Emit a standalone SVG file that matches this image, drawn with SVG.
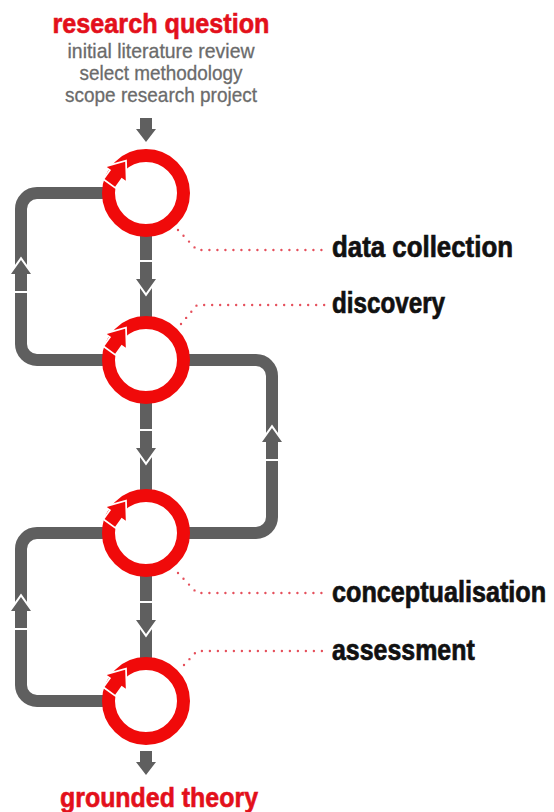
<svg xmlns="http://www.w3.org/2000/svg" width="554" height="812" viewBox="0 0 554 812">
  <style>
    .flow { fill: none; stroke: #5f5f5f; stroke-width: 12; }
    .garrow { fill: #5f5f5f; stroke: #ffffff; stroke-width: 4; paint-order: stroke; stroke-linejoin: miter; }
    .ring { fill: #ffffff; stroke: #f00a0a; stroke-width: 13; }
    .rarrow { fill: #f00a0a; stroke: #ffffff; stroke-width: 3.5; paint-order: stroke; stroke-linejoin: miter; }
    .lead { fill: none; stroke: #e5505c; stroke-width: 2.4; stroke-linecap: round; stroke-dasharray: 0 8; }
    .head { font-family: "Liberation Sans", Arial, sans-serif; font-weight: bold; fill: #e3101b; stroke: #e3101b; stroke-width: 0.6; text-anchor: middle; }
    .sub { font-family: "Liberation Sans", Arial, sans-serif; font-size: 21px; fill: #6b6b6b; stroke: #6b6b6b; stroke-width: 0.3; text-anchor: middle; }
    .label { font-family: "Liberation Sans", Arial, sans-serif; font-weight: bold; font-size: 29px; fill: #111111; stroke: #111111; stroke-width: 0.7; }
  </style>
  <defs>
    <!-- gray arrow, tip at origin, pointing down -->
    <polygon id="arrow" class="garrow" points="-6,-31 6,-31 6,-14 10,-14 0,0 -10,-14 -6,-14"/>
    <polygon id="arrowShort" class="garrow" points="-6,-24 6,-24 6,-13 10,-13 0,0 -10,-13 -6,-13"/>
    <!-- red circular-arrow head, drawn along the ring chord (ring radius 37.5) -->
    <polygon id="ringHead" class="rarrow" points="28.7,-13 41.7,-13 41.7,-2 47,-2 35.2,13 23.5,-2 28.7,-2"/>
  </defs>

  <!-- heading -->
  <g id="start">
    <text class="head" x="161" y="33" font-size="28" textLength="217" lengthAdjust="spacingAndGlyphs">research question</text>
    <text class="sub" x="161" y="58" textLength="187" lengthAdjust="spacingAndGlyphs">initial literature review</text>
    <text class="sub" x="161" y="80" textLength="163" lengthAdjust="spacingAndGlyphs">select methodology</text>
    <text class="sub" x="161" y="102" textLength="192" lengthAdjust="spacingAndGlyphs">scope research project</text>
  </g>

  <!-- flow lines, loops and arrows -->
  <g id="connectors">
    <path class="flow" d="M146,193 V701"/>
    <path class="flow" d="M146,193 H37 A16,16 0 0 0 21,209 V344 A16,16 0 0 0 37,360 H146"/>
    <path class="flow" d="M146,360 H256 A16,16 0 0 1 272,376 V517 A16,16 0 0 1 256,533 H146"/>
    <path class="flow" d="M146,533 H37 A16,16 0 0 0 21,549 V685 A16,16 0 0 0 37,701 H146"/>

    <use href="#arrowShort" transform="translate(146,142)"/>
    <use href="#arrow" transform="translate(146,293)"/>
    <use href="#arrow" transform="translate(146,462)"/>
    <use href="#arrow" transform="translate(146,634)"/>
    <use href="#arrowShort" transform="translate(146,775)"/>

    <use href="#arrow" transform="translate(21,260) rotate(180)"/>
    <use href="#arrow" transform="translate(272,428) rotate(180)"/>
    <use href="#arrow" transform="translate(21,597) rotate(180)"/>

    <!-- dotted leaders -->
    <path class="lead" d="M178,230 L197,250 H326"/>
    <path class="lead" d="M181,324 L197,305 H326"/>
    <path class="lead" d="M178,573 L197,593 H326"/>
    <path class="lead" d="M184,665 L197,651 H326"/>
  </g>

  <!-- stages -->
  <g id="stage1">
    <circle class="ring" cx="146" cy="193" r="37.5"/>
    <use href="#ringHead" transform="translate(146,193) rotate(216)"/>
  </g>
  <g id="stage2">
    <circle class="ring" cx="146" cy="360" r="37.5"/>
    <use href="#ringHead" transform="translate(146,360) rotate(216)"/>
  </g>
  <g id="stage3">
    <circle class="ring" cx="146" cy="533" r="37.5"/>
    <use href="#ringHead" transform="translate(146,533) rotate(216)"/>
  </g>
  <g id="stage4">
    <circle class="ring" cx="146" cy="701" r="37.5"/>
    <use href="#ringHead" transform="translate(146,701) rotate(216)"/>
  </g>

  <!-- labels (horizontally condensed) -->
  <g id="labels">
    <text class="label" transform="translate(332,257) scale(0.87,1)" textLength="208" lengthAdjust="spacingAndGlyphs">data collection</text>
    <text class="label" transform="translate(332,313) scale(0.87,1)" textLength="130" lengthAdjust="spacingAndGlyphs">discovery</text>
    <text class="label" transform="translate(332,602) scale(0.87,1)" textLength="246" lengthAdjust="spacingAndGlyphs">conceptualisation</text>
    <text class="label" transform="translate(332,660) scale(0.87,1)" textLength="164" lengthAdjust="spacingAndGlyphs">assessment</text>
  </g>

  <g id="end">
    <text class="head" x="159" y="807" font-size="28" textLength="198" lengthAdjust="spacingAndGlyphs">grounded theory</text>
  </g>
</svg>
